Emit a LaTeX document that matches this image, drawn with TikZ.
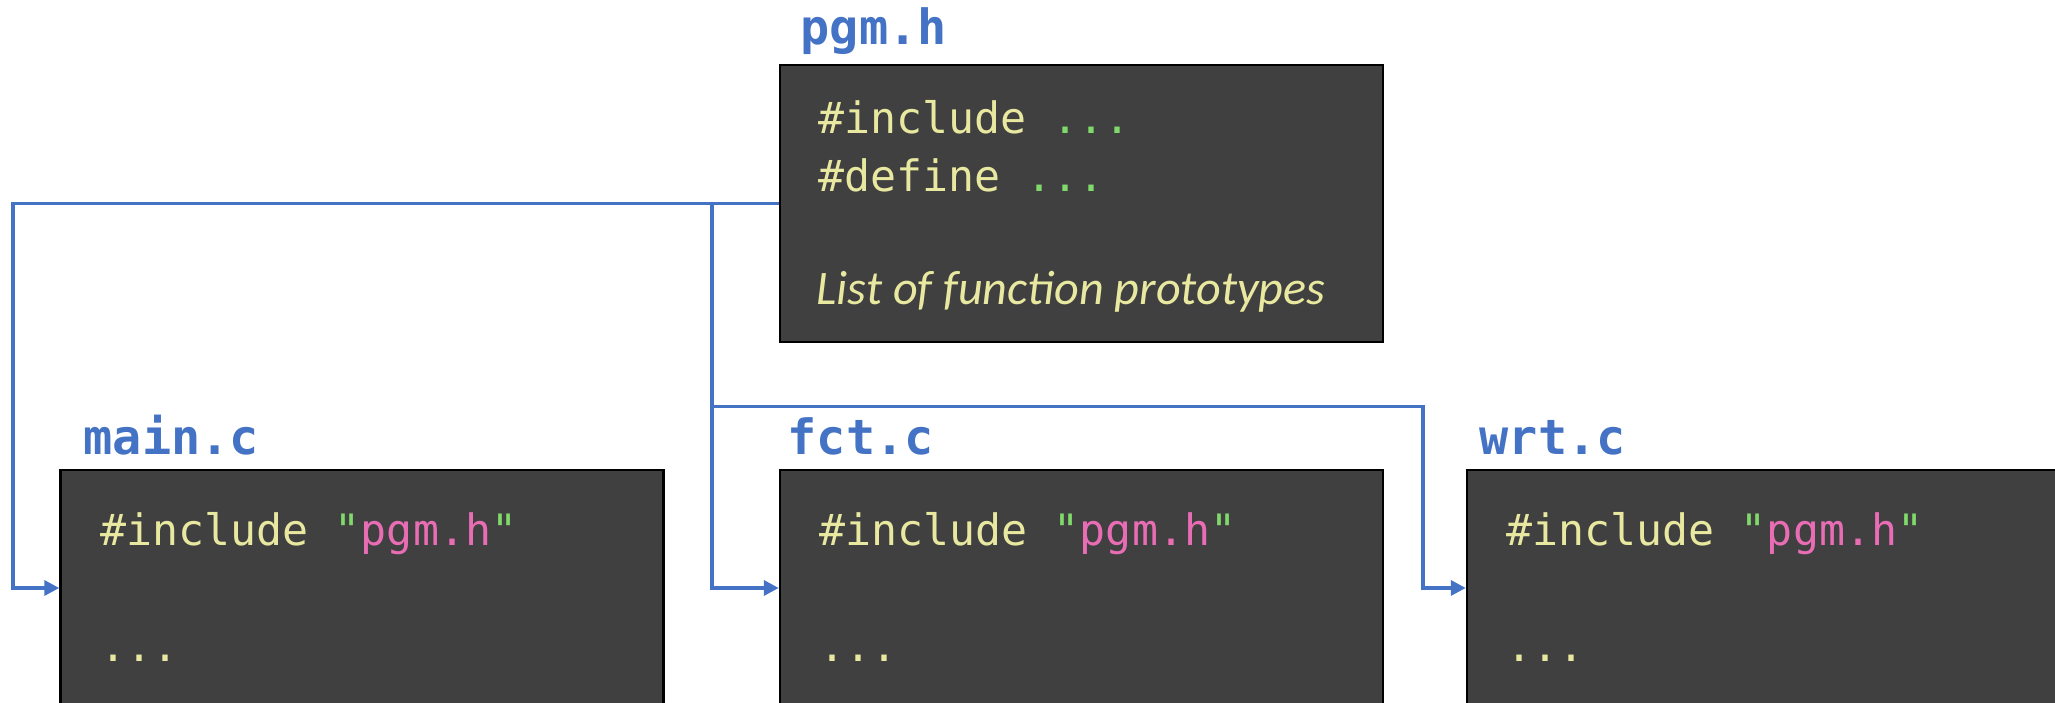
\documentclass[tikz,border=0pt]{standalone}
\usepackage{fontspec}
\usetikzlibrary{arrows.meta}
\newfontfamily\monofont{DejaVu Sans Mono}
\newfontfamily\calibrifont{Carlito}
\definecolor{fileblue}{HTML}{4472C4}
\definecolor{boxgray}{HTML}{404040}
\definecolor{codeyellow}{HTML}{E8E8A0}
\definecolor{codegreen}{HTML}{80D96A}
\definecolor{codepink}{HTML}{E86DB5}
\newcommand{\qt}{\textcolor{codegreen}{\symbol{34}}}
\newcommand{\incpgm}{\#include \qt\textcolor{codepink}{pgm.h}\qt}
\tikzset{
  codebox/.style={draw=black, line width=0.7pt, fill=boxgray, minimum width=60.3mm, inner sep=0pt},
  codetext/.style={anchor=base west, inner sep=0pt, text=codeyellow, font=\monofont\fontsize{12.3}{14}\selectfont},
  commenttext/.style={anchor=base west, inner sep=0pt, text=codeyellow, font=\calibrifont\itshape\fontsize{13.7}{16}\selectfont},
  filename/.style={anchor=base west, inner sep=0pt, text=fileblue, font=\monofont\bfseries\fontsize{13.8}{16}\selectfont},
  link/.style={draw=fileblue, line width=1pt, -{Triangle[length=1.5mm,width=1.5mm]}}
}
\begin{document}
\begin{tikzpicture}[x=1mm,y=1mm]
\useasboundingbox (0,0) rectangle (205.5,-70.3);
\node [codebox, minimum height=27.7mm] (pgm) at (108.15,-20.35) {};
\node [codebox, minimum height=23.6mm] (main) at (36.2,-58.8) {};
\node [codebox, minimum height=23.6mm] (fct) at (108.15,-58.8) {};
\node [codebox, minimum height=23.6mm] (wrt) at (176.85,-58.8) {};
\node [filename] (pgmname) at (80.0,-4.5) {pgm.h};
\node [filename] (mainname) at (8.3,-45.5) {main.c};
\node [filename] (fctname) at (78.7,-45.5) {fct.c};
\node [filename] (wrtname) at (147.9,-45.5) {wrt.c};
\node [codetext] (pgminc) at (81.8,-13.4) {\#include \textcolor{codegreen}{...}};
\node [codetext] (pgmdef) at (81.8,-19.2) {\#define \textcolor{codegreen}{...}};
\node [commenttext] (pgmlist) at (81.6,-30.5) {List of function prototypes};
\node [codetext] (maininc) at (10.0,-54.6) {\incpgm};
\node [codetext] (maindots) at (10.0,-66.2) {...};
\node [codetext] (fctinc) at (81.9,-54.6) {\incpgm};
\node [codetext] (fctdots) at (81.9,-66.2) {...};
\node [codetext] (wrtinc) at (150.6,-54.6) {\incpgm};
\node [codetext] (wrtdots) at (150.6,-66.2) {...};
\coordinate (lturn) at (1.3,0);
\coordinate (split) at (71.2,0);
\coordinate (rturn) at (142.3,-40.65);
\draw [link] (pgm.west) -- (pgm.west -| lturn) |- (main.west);
\draw [link] (pgm.west -| split) |- (fct.west);
\draw [link] (split |- rturn) -- (rturn) |- (wrt.west);
\end{tikzpicture}
\end{document}
